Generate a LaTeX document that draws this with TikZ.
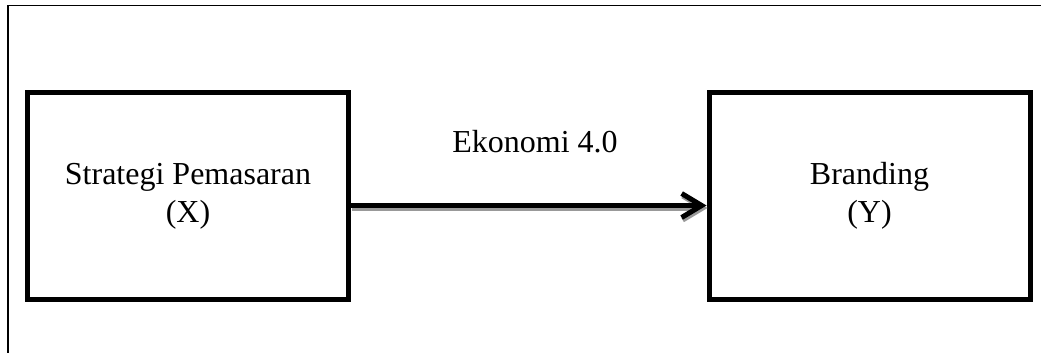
\documentclass[tikz,border=0pt]{standalone}
\usepackage{fontspec}
\setmainfont{Liberation Serif}
\usetikzlibrary{arrows.meta}
\begin{document}
\begin{tikzpicture}[x=1pt,y=-1pt,
  varbox/.style={draw=black,line width=5pt,minimum width=321pt,minimum height=207pt,inner sep=0pt,
    align=center,font=\fontsize{32}{38}\selectfont},
  lbl/.style={font=\fontsize{32}{38}\selectfont,inner sep=0pt},
  conn/.style={line width=5pt,-{Straight Barb[length=20pt,width=24pt,line width=5pt]}}]
\useasboundingbox (0,0) rectangle (1041,353);
\draw[line width=1.8pt] (8,353) -- (8,5.5) -- (1041,5.5);
\node[varbox] (x) at (188,196) {Strategi Pemasaran\\(X)};
\node[varbox] (y) at (869.5,196) {Branding\\(Y)};
\draw[conn,draw=black!40] ([yshift=-12pt,xshift=1pt]x.east) -- ([yshift=-12pt,xshift=1pt]y.west);
\draw[conn] ([yshift=-9.5pt]x.east) -- ([yshift=-9.5pt]y.west);
\node[lbl,anchor=base] (e) at (535,152) {Ekonomi 4.0};
\end{tikzpicture}
\end{document}
